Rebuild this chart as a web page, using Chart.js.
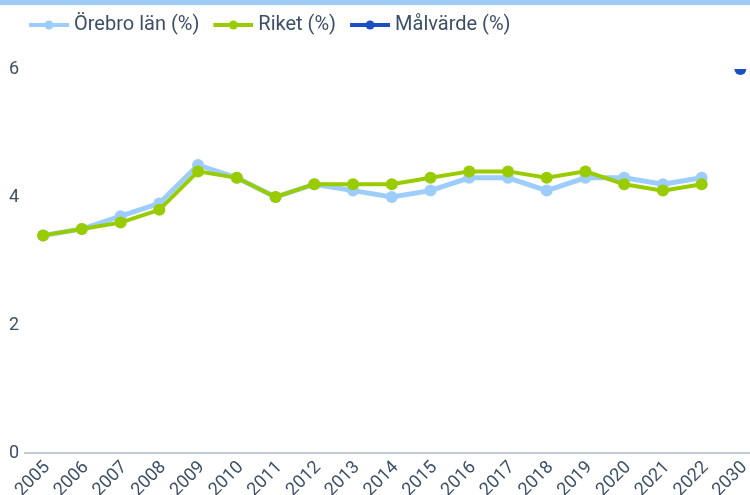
<!DOCTYPE html>
<html>
<head>
<meta charset="utf-8">
<script src="https://cdn.jsdelivr.net/npm/chart.js@4"></script>
<style>
  html, body { margin: 0; padding: 0; background: #fff; }
  .topbar { height: 5px; background: #9ecbf8; }
  .wrap { width: 750px; height: 490px; position: relative; }
</style>
</head>
<body>
<div class="topbar"></div>
<div class="wrap"><canvas id="chart"></canvas></div>
<script>
"use strict";

// years on the x axis (2030 is the target year)
const years = ["2005", "2006", "2007", "2008", "2009", "2010", "2011", "2012", "2013",
  "2014", "2015", "2016", "2017", "2018", "2019", "2020", "2021", "2022", "2030"];

const orebro = [3.4, 3.5, 3.7, 3.9, 4.5, 4.3, 4.0, 4.2, 4.1, 4.0, 4.1, 4.3, 4.3, 4.1, 4.3, 4.3, 4.2, 4.3, null];
const riket = [3.4, 3.5, 3.6, 3.8, 4.4, 4.3, 4.0, 4.2, 4.2, 4.2, 4.3, 4.4, 4.4, 4.3, 4.4, 4.2, 4.1, 4.2, null];
const malvarde = [null, null, null, null, null, null, null, null, null,
  null, null, null, null, null, null, null, null, null, 6];

const textColor = "#3d4f66";

Chart.defaults.font.family = "Roboto";
Chart.defaults.font.size = 18;
Chart.defaults.color = textColor;

// small line + dot used as legend marker (transparent strip on the left for spacing)
function legendMark(color) {
  const c = document.createElement("canvas");
  c.width = 51;
  c.height = 10;
  const g = c.getContext("2d");
  g.strokeStyle = color;
  g.lineWidth = 4;
  g.beginPath();
  g.moveTo(11, 5);
  g.lineTo(51, 5);
  g.stroke();
  g.fillStyle = color;
  g.beginPath();
  g.arc(31, 5, 4.5, 0, Math.PI * 2);
  g.fill();
  return c;
}

// legend spacing + zero line across the bottom
const layoutTweaks = {
  id: "layoutTweaks",
  beforeInit(chart) {
    const fit = chart.legend.fit;
    chart.legend.fit = function () {
      fit.bind(chart.legend)();
      this.height += 26;
    };
  },
  afterLayout(chart) {
    chart.legend.left += 15;
    chart.legend.top += 2;
  },
  beforeDatasetsDraw(chart) {
    const { ctx, chartArea, scales } = chart;
    const y = scales.y.getPixelForValue(0);
    ctx.save();
    ctx.strokeStyle = "#c3cbd4";
    ctx.lineWidth = 2;
    ctx.beginPath();
    ctx.moveTo(chartArea.left - 19, y);
    ctx.lineTo(chart.width, y);
    ctx.stroke();
    ctx.restore();
  },
};

const ctx = document.getElementById("chart");

new Chart(ctx, {
  type: "line",
  data: {
    labels: years,
    datasets: [
      {
        label: "Örebro län (%)",
        data: orebro,
        borderColor: "#9ccdfc",
        backgroundColor: "#9ccdfc",
        borderWidth: 5,
        pointRadius: 6,
        pointHoverRadius: 6,
        pointBorderWidth: 0,
        order: 1,
      },
      {
        label: "Riket (%)",
        data: riket,
        borderColor: "#99cc00",
        backgroundColor: "#99cc00",
        borderWidth: 4,
        pointRadius: 6,
        pointHoverRadius: 6,
        pointBorderWidth: 0,
        order: 0,
      },
      {
        label: "Målvärde (%)",
        data: malvarde,
        borderColor: "#1c4fc3",
        backgroundColor: "#1c4fc3",
        borderWidth: 4,
        pointRadius: 6,
        pointHoverRadius: 6,
        pointBorderWidth: 0,
        order: 2,
      },
    ],
  },
  options: {
    responsive: true,
    maintainAspectRatio: false,
    animation: false,
    layout: { padding: 0 },
    plugins: {
      legend: {
        position: "top",
        align: "start",
        labels: {
          usePointStyle: true,
          pointStyleWidth: 41,
          padding: 8,
          color: textColor,
          font: { size: 20 },
          generateLabels: (chart) =>
            chart.data.datasets.map((ds, i) => ({
              text: ds.label,
              pointStyle: legendMark(ds.borderColor),
              fillStyle: ds.borderColor,
              strokeStyle: ds.borderColor,
              lineWidth: 0,
              fontColor: textColor,
              hidden: !chart.isDatasetVisible(i),
              datasetIndex: i,
            })),
        },
      },
      tooltip: { enabled: false },
    },
    scales: {
      x: {
        offset: false,
        grid: { display: false, drawTicks: false },
        border: { display: false },
        ticks: {
          minRotation: 45,
          maxRotation: 45,
          autoSkip: false,
          padding: 4,
          labelOffset: 4,
          color: textColor,
        },
        afterFit: (scale) => {
          scale.paddingRight = 9.6;
          scale.height = 42;
        },
      },
      y: {
        min: 0,
        max: 6,
        border: { display: false },
        grid: { drawOnChartArea: false, tickLength: 15, color: "transparent" },
        ticks: { stepSize: 2, padding: 9, color: textColor },
      },
    },
  },
  plugins: [layoutTweaks],
});
</script>
</body>
</html>
